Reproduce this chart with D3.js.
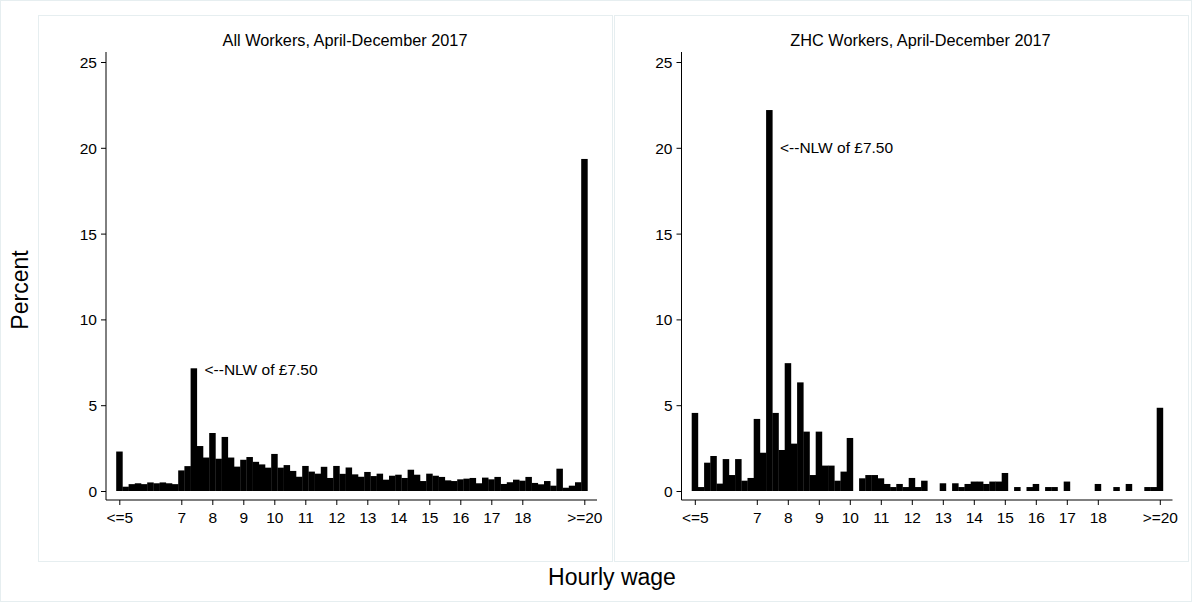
<!DOCTYPE html>
<html>
<head>
<meta charset="utf-8">
<script src="https://cdn.jsdelivr.net/npm/d3@7"></script>
<style>
  body { margin: 0; background: #fff; }
  svg text { font-family: "Liberation Sans", Arial, Helvetica, sans-serif; fill: #000; }
</style>
</head>
<body>
<svg id="chart" width="1192" height="602"></svg>
<script>
// ------ données ------
// centres des classes (largeur 0.2), de <=5 à >=20
const binWidth = 0.2
const bins = d3.range(76).map(i => +(5 + i * binWidth).toFixed(1))

// tous les salariés
const allWorkers = [
  2.3, 0.25, 0.4, 0.45, 0.4, 0.5, 0.45, 0.5, 0.45, 0.4,
  1.2, 1.45, 7.15, 2.62, 1.95, 3.38, 1.88, 3.15, 1.95, 1.42,
  1.82, 1.98, 1.7, 1.55, 1.36, 2.16, 1.36, 1.51, 1.17, 0.83,
  1.46, 1.13, 1.01, 1.41, 0.76, 1.46, 1.0, 1.37, 0.97, 0.83,
  1.11, 0.87, 1.01, 0.66, 0.89, 0.95, 0.76, 1.24, 0.95, 0.58,
  1.01, 0.89, 0.82, 0.62, 0.58, 0.68, 0.72, 0.76, 0.45, 0.78,
  0.68, 0.82, 0.41, 0.51, 0.66, 0.6, 0.82, 0.47, 0.39, 0.58,
  0.31, 1.3, 0.19, 0.31, 0.51, 19.35
]

// salariés ZHC
const zhcWorkers = [
  4.55, 0.23, 1.65, 2.04, 0.43, 1.86, 0.93, 1.86, 0.6, 0.76,
  4.2, 2.23, 22.2, 4.55, 2.39, 7.45, 2.76, 6.33, 3.46, 0.93,
  3.46, 1.48, 1.48, 0.6, 1.13, 3.09, 0, 0.74, 0.93, 0.93,
  0.74, 0.41, 0.23, 0.41, 0.23, 0.76, 0.23, 0.6, 0, 0,
  0.45, 0, 0.45, 0.23, 0.41, 0.55, 0.55, 0.41, 0.55, 0.55,
  1.05, 0, 0.23, 0, 0.23, 0.41, 0, 0.23, 0.23, 0,
  0.55, 0, 0, 0, 0, 0.41, 0, 0, 0.23, 0,
  0.41, 0, 0, 0.23, 0.23, 4.85
]

const xTicks = [5, 7, 8, 9, 10, 11, 12, 13, 14, 15, 16, 17, 18, 20]
const xTickLabels = ["<=5", "7", "8", "9", "10", "11", "12", "13", "14", "15", "16", "17", "18", ">=20"]
const yTicks = [0, 5, 10, 15, 20, 25]

const panels = [
  { title: "All Workers, April-December 2017", values: allWorkers, note: [7.75, 7.05] },
  { title: "ZHC Workers, April-December 2017", values: zhcWorkers, note: [7.75, 20] }
]
const noteText = "<--NLW of £7.50"

// ------ rendu ------
const svg = d3.select("#chart")
const frame = "#e6eef0"

svg.append("rect")
    .attr("x", 0.5).attr("y", 0.5)
    .attr("width", 1191).attr("height", 601)
    .attr("fill", "none").attr("stroke", frame)

const panelW = 575.5

panels.forEach((p, i) => {
    const ox = i * panelW
    const g = svg.append("g").attr("transform", `translate(${ox},0)`)

    // cadre du panneau
    g.append("rect")
        .attr("x", 38.5 + i * 0.5).attr("y", 15.5)
        .attr("width", 574).attr("height", 546)
        .attr("fill", "none").attr("stroke", frame)

    const x = d3.scaleLinear().domain([5, 20]).range([119.3, 584.3])
    const y = d3.scaleLinear().domain([0, 25]).range([491, 62])

    // barres
    g.selectAll("rect.bar")
        .data(bins.map((b, k) => ({ b: b, v: p.values[k] })).filter(d => d.v > 0))
        .enter()
        .append("rect")
        .attr("class", "bar")
        .attr("x", d => x(d.b - binWidth / 2))
        .attr("width", d => x(d.b + binWidth / 2) - x(d.b - binWidth / 2) + 0.3)
        .attr("y", d => y(d.v))
        .attr("height", d => y(0) - y(d.v))
        .attr("fill", "#000")

    // axe y
    const yAxis = g.append("g")
        .attr("transform", "translate(106,0)")
        .call(d3.axisLeft(y).tickValues(yTicks).tickSize(5).tickPadding(4))
    yAxis.select(".domain").remove()
    yAxis.selectAll("text").style("font-size", "15.5px").attr("dy", "0.35em")
    g.append("line")
        .attr("x1", 106).attr("x2", 106)
        .attr("y1", 52).attr("y2", 500)
        .attr("stroke", "#000")

    // axe x
    const xAxis = g.append("g")
        .attr("transform", "translate(0,500)")
        .call(d3.axisBottom(x).tickValues(xTicks).tickFormat((d, k) => xTickLabels[k]).tickSize(5).tickPadding(7))
    xAxis.select(".domain").remove()
    xAxis.selectAll("text").style("font-size", "15.5px")
    g.append("line")
        .attr("x1", 106).attr("x2", 597)
        .attr("y1", 500).attr("y2", 500)
        .attr("stroke", "#000")

    // titre
    g.append("text")
        .attr("x", 345).attr("y", 46)
        .attr("text-anchor", "middle")
        .style("font-size", "16.3px")
        .text(p.title)

    // annotation
    g.append("text")
        .attr("x", x(p.note[0])).attr("y", y(p.note[1]))
        .attr("dy", "0.35em")
        .style("font-size", "15.5px")
        .text(noteText)
})

// titres des axes
svg.append("text")
    .attr("transform", "translate(28,290) rotate(-90)")
    .attr("text-anchor", "middle")
    .style("font-size", "23px")
    .text("Percent")

svg.append("text")
    .attr("x", 612).attr("y", 585)
    .attr("text-anchor", "middle")
    .style("font-size", "23px")
    .text("Hourly wage")
</script>
</body>
</html>
